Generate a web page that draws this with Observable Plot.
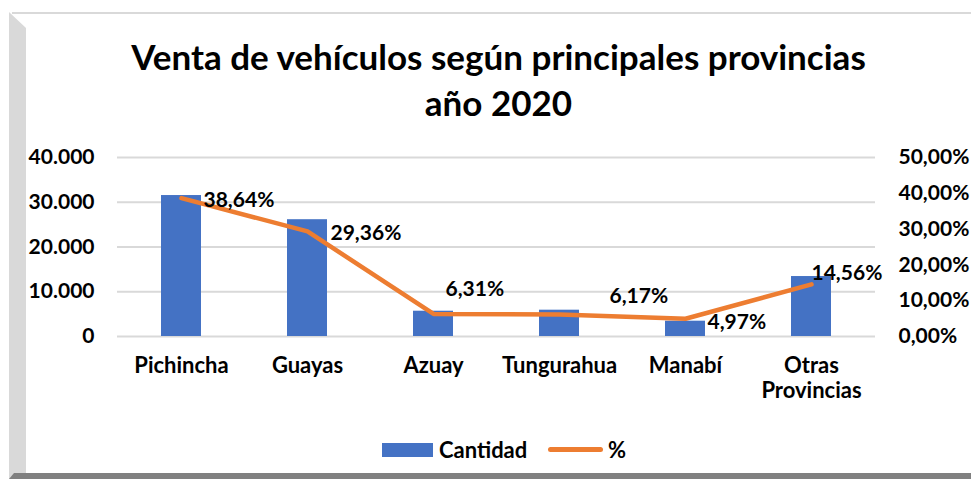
<!DOCTYPE html>
<html><head><meta charset="utf-8">
<script src="https://cdn.jsdelivr.net/npm/d3@7"></script>
<script src="https://cdn.jsdelivr.net/npm/@observablehq/plot@0.6"></script>
<style>
  html,body{margin:0;padding:0;background:#fff;}
  body{width:971px;height:479px;overflow:hidden;position:relative;font-family:Lato,"Liberation Sans",sans-serif;}
  #ftop{position:absolute;left:12px;top:12px;width:959px;height:2px;background:#d9d9d9;}
  #fleft{position:absolute;left:9px;top:12px;width:17px;height:467px;background:#d9d9d9;clip-path:polygon(0 0,100% 16px,100% 100%,0 100%);}
  #fbottom{position:absolute;left:9px;top:473px;width:962px;height:6px;background:#808080;clip-path:polygon(0 100%,5px 0,100% 0,100% 100%);}
  #title{position:absolute;left:26px;width:945px;top:33px;text-align:center;font-weight:700;font-size:35px;line-height:46px;color:#000;}
  #chart{position:absolute;left:0;top:140px;}
  #legend{position:absolute;top:437px;left:0;width:971px;height:26px;}
  .sw{position:absolute;}
  .lt{position:absolute;font-weight:700;font-size:22px;line-height:26px;color:#000;}
</style></head>
<body>
<div id="ftop"></div><div id="fleft"></div><div id="fbottom"></div>
<div id="title">Venta de vehículos según principales provincias<br>año 2020</div>
<div id="chart"></div>
<div id="legend">
  <div class="sw" style="left:382px;top:6px;width:51px;height:14px;background:#4472C4"></div>
  <div class="lt" style="left:439px;top:0">Cantidad</div>
  <div class="sw" style="left:548px;top:10px;width:55px;height:5px;border-radius:3px;background:#ED7D31"></div>
  <div class="lt" style="left:608px;top:0">%</div>
</div>
<script>
const categories = ["Pichincha","Guayas","Azuay","Tungurahua","Manabí","Otras Provincias"];
const cantidad = [31500, 26100, 5650, 5880, 3420, 13400];
const porcentaje = [38.64, 29.36, 6.31, 6.17, 4.97, 14.56];
const leftTicks = [0, 10000, 20000, 30000, 40000];
const rightTicks = [0, 10, 20, 30, 40, 50];

// label placement (pixels), separate from data
const labelOffsets = [[22,2],[23,2],[12,-25],[50,-18],[22,4],[0,-11]];

const yMax = 40000, pMax = 50, k = yMax / pMax;
const rows = categories.map((c,i)=>({cat:c, cantidad:cantidad[i], pct:porcentaje[i]}));
const fmtPct = v => v.toFixed(2).replace(".", ",") + "%";
const fmtNum = v => v === 0 ? "0" : d3.format(",")(v).replace(/,/g, ".");

const plot = Plot.plot({
  width: 971, height: 266,
  marginLeft: 117, marginRight: 96, marginTop: 17, marginBottom: 70,
  style: {fontFamily: 'Lato,"Liberation Sans",sans-serif', background: "transparent", color: "#000"},
  x: {domain: categories, paddingInner: 0.685, paddingOuter: 0.3425, label: null},
  y: {domain: [0, yMax], label: null},
  marks: [
    Plot.gridY(leftTicks, {stroke: "#d9d9d9", strokeOpacity: 1, strokeWidth: 2}),
    Plot.barY(rows, {x: "cat", y: "cantidad", fill: "#4472C4"}),
    Plot.lineY(rows, {x: "cat", y: d => d.pct * k, stroke: "#ED7D31", strokeWidth: 4.5, strokeLinejoin: "round", strokeLinecap: "round"}),
    Plot.axisY(leftTicks, {anchor: "left", tickSize: 0, tickPadding: 23, tickFormat: fmtNum, fontSize: 21, fontWeight: "bold", label: null}),
    Plot.axisY(rightTicks.map(t => t * k), {anchor: "right", tickSize: 0, tickPadding: 23, tickFormat: v => fmtPct(v / k), fontSize: 21, fontWeight: "bold", label: null}),
    Plot.axisX(categories, {anchor: "bottom", tickSize: 0, tickPadding: 19, fontSize: 22, fontWeight: "bold", lineHeight: 1.14,
      tickFormat: d => d.replace(" ", "\n"), label: null}),
    ...labelOffsets.map((o, i) => Plot.text([rows[i]], {x: "cat", y: d => d.pct * k, text: d => fmtPct(d.pct),
      dx: o[0], dy: o[1], textAnchor: "start", fontSize: 21, fontWeight: "bold", fill: "#000"}))
  ]
});
document.getElementById("chart").appendChild(plot);
</script>
</body></html>
